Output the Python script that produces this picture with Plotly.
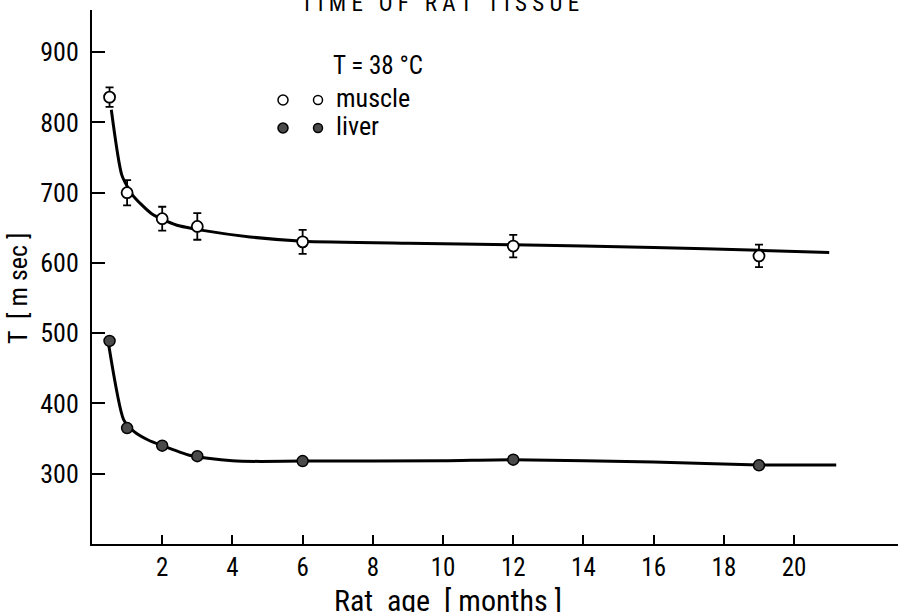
import plotly.graph_objects as go

# ---- data ----
months = [0.5, 1, 2, 3, 6, 12, 19]
muscle_t1 = [836, 700, 663, 652, 630, 624, 610]
muscle_err = [14, 18, 17, 19, 17, 16, 16]
liver_t1 = [489, 365, 340, 325, 318, 320, 312]

# hand-drawn fitted curves
muscle_curve_x = [0.55, 0.85, 1.15, 1.7, 2.4, 3.2, 4.5, 6, 9, 12, 16, 19, 21]
muscle_curve_y = [818, 725, 697, 670, 654, 646, 637, 631, 628, 626, 622, 618, 615]
liver_curve_x = [0.48, 0.9, 1.2, 1.6, 2, 2.8, 3.3, 4, 4.8, 6, 10, 12, 16, 19, 21.2]
liver_curve_y = [482, 377, 360, 348, 340, 326, 322, 318.5, 317.5, 318, 318.5, 320, 316.6, 312.4, 312.5]

x_ticks = [2, 4, 6, 8, 10, 12, 14, 16, 18, 20]
y_ticks = [300, 400, 500, 600, 700, 800, 900]

FONT = "Roboto Condensed, Liberation Sans Narrow, DejaVu Sans Condensed, sans-serif"

fig = go.Figure()

fig.add_trace(go.Scatter(x=muscle_curve_x, y=muscle_curve_y, mode="lines",
                         line=dict(color="black", width=3, shape="spline", smoothing=0.6),
                         hoverinfo="skip", showlegend=False))
fig.add_trace(go.Scatter(x=liver_curve_x, y=liver_curve_y, mode="lines",
                         line=dict(color="black", width=3, shape="spline", smoothing=0.6),
                         hoverinfo="skip", showlegend=False))

fig.add_trace(go.Scatter(x=months, y=muscle_t1, mode="markers", name="muscle",
                         error_y=dict(type="data", array=muscle_err, color="black",
                                      thickness=1.8, width=4),
                         marker=dict(symbol="circle", size=11, color="white",
                                     line=dict(color="black", width=1.8)),
                         showlegend=False))
fig.add_trace(go.Scatter(x=months, y=liver_t1, mode="markers", name="liver",
                         marker=dict(symbol="circle", size=11, color="#4a4a4a",
                                     line=dict(color="black", width=1.5)),
                         showlegend=False))

# ---- legend block (drawn by hand like the original) ----
def px_to_paper_x(px):
    return (px - 92) / 806.0

def px_to_paper_y(py):
    return (544 - py) / 534.0

shapes = []
for cx, cy, filled, r in [(283, 100, False, 5), (318, 100, False, 4.5),
                          (283, 128, True, 5), (318, 128, True, 4.5)]:
    shapes.append(dict(type="circle", xref="paper", yref="paper",
                       xsizemode="pixel", ysizemode="pixel",
                       xanchor=px_to_paper_x(cx), yanchor=px_to_paper_y(cy),
                       x0=-r, x1=r, y0=-r, y1=r,
                       fillcolor="#4a4a4a" if filled else "white",
                       line=dict(color="black", width=1.5)))

def txt(text, px, py, size, xanchor="left", angle=0):
    return dict(text=text, x=px_to_paper_x(px), y=px_to_paper_y(py), xref="paper", yref="paper",
                xanchor=xanchor, yanchor="middle", showarrow=False, textangle=angle,
                font=dict(size=size, family=FONT, color="black"))

annotations = [
    txt("T = 38 °C", 331, 65, 25),
    txt("muscle", 334, 98, 26),
    txt("liver", 334, 126, 26),
    txt("T I M E   O F   R A T   T I S S U E", 440, 3, 23, xanchor="center"),
    txt("Rat  age  [ months ]", 448, 600, 30, xanchor="center"),
    txt("T  [ m sec ]", 18, 288, 26, xanchor="center", angle=-90),
]

fig.update_layout(
    width=898, height=612,
    margin=dict(l=92, r=0, t=10, b=68),
    paper_bgcolor="white", plot_bgcolor="white",
    font=dict(family=FONT, color="black"),
    shapes=shapes, annotations=annotations,
    showlegend=False,
)
fig.update_xaxes(range=[0, 22.96], tickvals=x_ticks, ticktext=[str(v) for v in x_ticks],
                 ticks="inside", ticklen=9, tickwidth=2, tickcolor="black",
                 showline=True, linecolor="black", linewidth=2, showgrid=False, zeroline=False,
                 tickfont=dict(size=25, family=FONT, color="black"), ticklabelstandoff=0)
fig.update_yaxes(range=[200, 960], tickvals=y_ticks, ticktext=[str(v) for v in y_ticks],
                 ticks="inside", ticklen=13, tickwidth=2, tickcolor="black",
                 showline=True, linecolor="black", linewidth=2, showgrid=False, zeroline=False,
                 tickfont=dict(size=26, family=FONT, color="black"), ticklabelstandoff=6)

fig.write_html("out.html", config={"displayModeBar": False},
               post_script="document.body.style.margin='0px';")
